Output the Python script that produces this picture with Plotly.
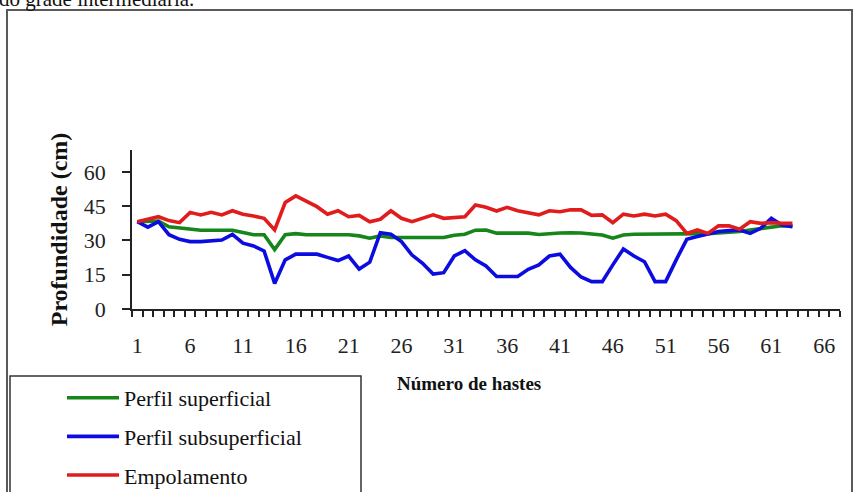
import plotly.graph_objects as go

hastes = list(range(1, 64))

perfil_superficial = [
    38.2, 38.5, 38.5, 36.0, 35.5, 35.0, 34.5, 34.5, 34.5, 34.5,
    33.5, 32.5, 32.5, 26.0, 32.5, 33.0, 32.5, 32.5, 32.5, 32.5,
    32.5, 32.0, 31.0, 32.0, 31.3, 31.3, 31.3, 31.3, 31.3, 31.3,
    32.3, 32.7, 34.5, 34.6, 33.2, 33.2, 33.2, 33.2, 32.6, 33.0,
    33.3, 33.4, 33.3, 32.8, 32.4, 31.0, 32.4, 32.7, 32.7, 32.7,
    32.7, 32.7, 32.7, 32.7, 33.0, 33.3, 33.6, 33.9, 34.6, 35.3,
    36.0, 36.4, 36.4,
]

perfil_subsuperficial = [
    38.2, 35.8, 38.2, 32.5, 30.5, 29.5, 29.5, 30.0, 30.2, 32.7,
    28.8, 27.6, 25.4, 11.2, 21.5, 24.0, 24.0, 24.0, 22.6, 21.2,
    23.2, 17.5, 20.5, 33.4, 32.7, 29.5, 23.6, 20.0, 15.3, 15.9,
    23.2, 25.5, 21.5, 18.8, 14.2, 14.2, 14.2, 17.4, 19.3, 23.2,
    24.0, 18.2, 14.0, 12.0, 12.0, 19.3, 26.3, 23.2, 20.7, 12.0,
    12.0, 21.5, 30.5, 31.7, 32.7, 33.9, 34.3, 34.6, 33.1, 35.3,
    39.7, 36.8, 36.0,
]

empolamento = [
    38.2, 39.5, 40.4, 38.7, 37.8, 42.3, 41.2, 42.3, 41.2, 43.0,
    41.5, 40.7, 39.7, 34.6, 46.6, 49.5, 47.0, 44.8, 41.5, 43.0,
    40.4, 41.0, 38.2, 39.3, 43.0, 39.7, 38.2, 39.7, 41.2, 39.7,
    40.1, 40.4, 45.5, 44.5, 42.9, 44.5, 43.0, 42.3, 41.2, 43.0,
    42.6, 43.4, 43.4, 41.0, 41.2, 37.8, 41.5, 40.7, 41.5, 40.7,
    41.5, 38.7, 33.1, 34.6, 33.1, 36.4, 36.4, 34.9, 38.2, 37.5,
    37.8, 37.5, 37.5,
]

x_tick_vals = [1, 6, 11, 16, 21, 26, 31, 36, 41, 46, 51, 56, 61, 66]
y_tick_vals = [0, 15, 30, 45, 60]

series_names = ["Perfil superficial", "Perfil subsuperficial", "Empolamento"]
series_colors = ["#16851a", "#0c0ce0", "#e01c1c"]

SERIF = "Liberation Serif, Times New Roman, serif"

W, H = 854, 492
ML, MR, MT, MB = 132, 14, 150, 183
PW = W - ML - MR
PH = H - MT - MB


def px_x(p):
    return (p - ML) / PW


def px_y(p):
    return (H - MB - p) / PH


fig = go.Figure()
for name, vals, col in zip(series_names,
                           [perfil_superficial, perfil_subsuperficial, empolamento],
                           series_colors):
    fig.add_trace(go.Scatter(
        x=hastes, y=vals, mode="lines", name=name, legendgroup=name,
        line=dict(color=col, width=3.6),
    ))

fig.update_layout(
    width=W, height=H,
    margin=dict(l=ML, r=MR, t=MT, b=MB, autoexpand=False),
    paper_bgcolor="white", plot_bgcolor="white",
    font=dict(family=SERIF, color="#111111"),
    showlegend=True,
    legend=dict(
        x=px_x(62), y=px_y(377), xanchor="left", yanchor="top",
        font=dict(family=SERIF, size=22, color="#111111"),
        bgcolor="rgba(0,0,0,0)", borderwidth=0,
        tracegroupgap=7, itemwidth=52,
    ),
    xaxis=dict(
        range=[0.5, 67.5], tickmode="array", tickvals=x_tick_vals,
        ticks="", showgrid=False, zeroline=False,
        showline=True, linecolor="#222222", linewidth=1.5,
        tickfont=dict(family=SERIF, size=22, color="#222222"),
        ticklabelstandoff=16,
        minor=dict(tick0=0.5, dtick=1, ticks="outside", ticklen=6,
                   tickcolor="#222222", tickwidth=1.5, showgrid=False),
    ),
    yaxis=dict(
        range=[0, 69.6], tickmode="array", tickvals=y_tick_vals,
        ticks="outside", ticklen=8, tickcolor="#222222", tickwidth=1.5,
        showgrid=False, zeroline=False,
        showline=True, linecolor="#222222", linewidth=1.5,
        tickfont=dict(family=SERIF, size=22, color="#222222"),
        ticklabelstandoff=12,
        title=dict(text="Profundidade (cm)", standoff=9,
                   font=dict(family=SERIF, size=24, color="#111111", weight="bold")),
    ),
    shapes=[
        dict(type="rect", xref="paper", yref="paper",
             x0=px_x(7), x1=px_x(852), y0=px_y(10), y1=px_y(540),
             line=dict(color="#5a5a5a", width=2), fillcolor="rgba(0,0,0,0)",
             layer="below"),
        dict(type="rect", xref="paper", yref="paper",
             x0=px_x(10), x1=px_x(361), y0=px_y(376), y1=px_y(540),
             line=dict(color="#333333", width=1.5), fillcolor="white",
             layer="below"),
    ],
    annotations=[
        dict(text="do grade intermediária.", xref="paper", yref="paper",
             x=px_x(-3), y=px_y(13), xanchor="left", yanchor="bottom",
             showarrow=False, font=dict(family=SERIF, size=21, color="#111111")),
        dict(text="Número de hastes", xref="paper", yref="paper",
             x=px_x(469), y=px_y(383), xanchor="center", yanchor="middle",
             showarrow=False,
             font=dict(family=SERIF, size=19, color="#111111", weight="bold")),
    ],
)

fig.write_html(
    "out.html",
    config={"displayModeBar": False},
    post_script="document.body.style.margin='0';document.body.style.overflow='hidden';",
)
